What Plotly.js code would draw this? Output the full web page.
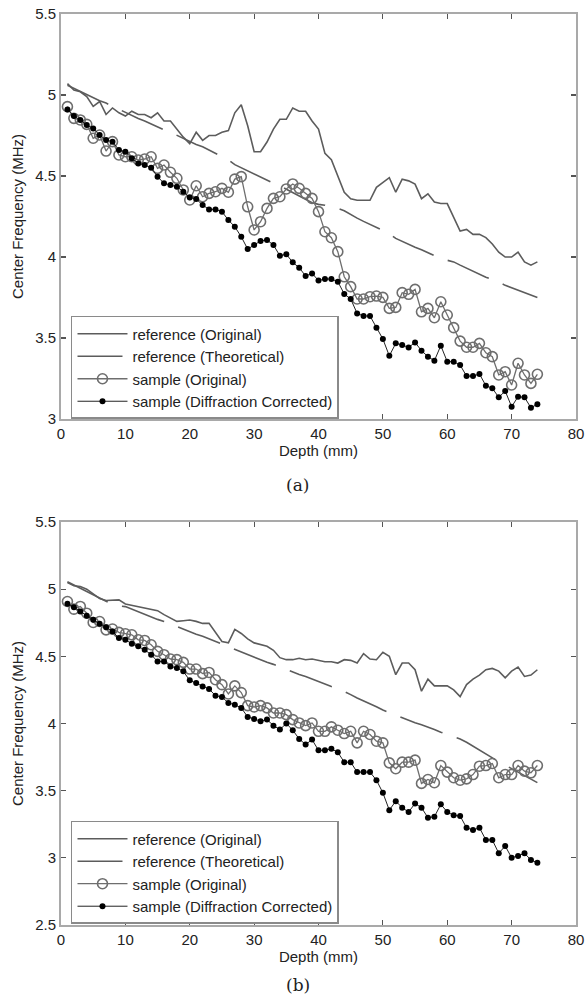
<!DOCTYPE html>
<html>
<head>
<meta charset="utf-8">
<script src="https://cdn.plot.ly/plotly-3.0.1.min.js"></script>
<style>html,body{margin:0;padding:0;background:#fff;}#chart{width:586px;height:1005px;}</style>
</head>
<body>
<div id="chart"></div>
<script>
// Depth (mm), 1..74
const depth = [1,2,3,4,5,6,7,8,9,10,11,12,13,14,15,16,17,18,19,20,21,22,23,24,25,26,27,28,29,30,31,32,33,34,35,36,37,38,39,40,41,42,43,44,45,46,47,48,49,50,51,52,53,54,55,56,57,58,59,60,61,62,63,64,65,66,67,68,69,70,71,72,73,74];

// ---- (a) ----
const refOrigA = [5.07,5.03,5.02,4.99,4.93,4.96,4.88,4.92,4.89,4.87,4.90,4.88,4.88,4.86,4.89,4.84,4.84,4.79,4.74,4.70,4.77,4.72,4.75,4.75,4.77,4.78,4.89,4.94,4.81,4.65,4.65,4.71,4.79,4.85,4.85,4.92,4.90,4.90,4.84,4.79,4.64,4.60,4.50,4.40,4.36,4.35,4.35,4.35,4.43,4.46,4.49,4.40,4.48,4.47,4.45,4.36,4.39,4.34,4.33,4.33,4.24,4.16,4.17,4.14,4.14,4.12,4.08,4.03,4.00,4.00,4.03,3.97,3.95,3.97];
const refTheoA = [5.06,5.04,5.02,5.005,4.985,4.965,4.95,4.93,4.91,4.895,4.875,4.855,4.84,4.82,4.80,4.785,4.77,4.75,4.735,4.715,4.695,4.68,4.66,4.64,4.625,4.60,4.57,4.55,4.53,4.515,4.495,4.475,4.455,4.44,4.42,4.40,4.38,4.36,4.335,4.325,4.32,4.31,4.30,4.285,4.26,4.24,4.22,4.20,4.185,4.165,4.145,4.115,4.095,4.075,4.06,4.045,4.025,4.005,3.99,3.98,3.97,3.95,3.93,3.91,3.895,3.875,3.86,3.845,3.825,3.81,3.795,3.78,3.765,3.75];
const sampOrigA = [4.928,4.856,4.846,4.819,4.733,4.753,4.654,4.712,4.63,4.619,4.619,4.599,4.605,4.619,4.547,4.568,4.523,4.486,4.414,4.352,4.44,4.372,4.393,4.403,4.424,4.40,4.481,4.496,4.31,4.167,4.218,4.30,4.362,4.372,4.42,4.451,4.424,4.393,4.362,4.28,4.156,4.119,4.033,3.878,3.817,3.741,3.741,3.755,3.759,3.751,3.683,3.689,3.78,3.77,3.80,3.662,3.683,3.625,3.724,3.642,3.564,3.481,3.443,3.443,3.467,3.409,3.385,3.272,3.292,3.21,3.344,3.272,3.22,3.276];
const sampCorrA = [4.91,4.87,4.846,4.815,4.794,4.753,4.722,4.712,4.66,4.65,4.609,4.578,4.568,4.551,4.496,4.455,4.444,4.434,4.403,4.368,4.358,4.321,4.294,4.294,4.28,4.228,4.187,4.125,4.049,4.074,4.099,4.105,4.074,4.008,4.017,3.967,3.934,3.883,3.899,3.855,3.864,3.864,3.848,3.772,3.741,3.652,3.636,3.636,3.564,3.494,3.39,3.467,3.457,3.442,3.473,3.422,3.385,3.36,3.453,3.354,3.354,3.333,3.265,3.265,3.278,3.206,3.19,3.134,3.173,3.076,3.138,3.134,3.07,3.091];

// ---- (b) ----
const refOrigB = [5.05,5.025,5.02,5.0,4.965,4.93,4.915,4.92,4.92,4.89,4.88,4.875,4.865,4.85,4.84,4.81,4.785,4.76,4.765,4.77,4.76,4.745,4.745,4.675,4.61,4.60,4.70,4.67,4.63,4.60,4.59,4.575,4.545,4.49,4.475,4.475,4.485,4.475,4.48,4.47,4.46,4.46,4.45,4.475,4.47,4.45,4.52,4.48,4.475,4.53,4.50,4.363,4.45,4.45,4.40,4.24,4.33,4.28,4.28,4.28,4.25,4.20,4.29,4.33,4.36,4.40,4.41,4.39,4.34,4.39,4.42,4.35,4.36,4.40];
const refTheoB = [5.055,5.03,5.005,4.98,4.955,4.93,4.91,4.89,4.875,4.87,4.85,4.83,4.815,4.795,4.775,4.76,4.74,4.72,4.705,4.685,4.665,4.65,4.63,4.61,4.59,4.57,4.55,4.535,4.515,4.495,4.475,4.455,4.44,4.42,4.40,4.385,4.365,4.35,4.33,4.315,4.295,4.275,4.26,4.24,4.215,4.19,4.17,4.15,4.125,4.10,4.08,4.06,4.04,4.02,4.005,3.99,3.975,3.955,3.935,3.92,3.90,3.885,3.86,3.83,3.80,3.77,3.74,3.715,3.69,3.665,3.64,3.61,3.585,3.56];
const sampOrigB = [4.908,4.851,4.871,4.821,4.752,4.759,4.697,4.703,4.678,4.668,4.66,4.623,4.618,4.586,4.537,4.512,4.48,4.475,4.455,4.405,4.405,4.371,4.38,4.326,4.289,4.22,4.28,4.23,4.133,4.123,4.133,4.116,4.078,4.078,4.066,4.029,4.004,3.984,4.004,3.942,3.942,3.975,3.95,3.925,3.942,3.856,3.942,3.918,3.868,3.856,3.707,3.663,3.712,3.712,3.727,3.554,3.583,3.559,3.687,3.638,3.596,3.578,3.588,3.62,3.682,3.687,3.702,3.596,3.62,3.62,3.687,3.645,3.633,3.687];
const sampCorrB = [4.891,4.866,4.834,4.802,4.772,4.742,4.717,4.685,4.636,4.623,4.594,4.574,4.549,4.512,4.462,4.462,4.425,4.413,4.388,4.321,4.301,4.276,4.257,4.207,4.197,4.153,4.14,4.116,4.049,4.034,4.017,4.029,3.984,3.955,4.0,3.95,3.885,3.843,3.88,3.80,3.801,3.811,3.786,3.712,3.712,3.638,3.638,3.638,3.578,3.484,3.355,3.422,3.373,3.341,3.405,3.373,3.299,3.306,3.398,3.341,3.316,3.311,3.224,3.207,3.224,3.133,3.133,3.034,3.088,3.001,3.014,3.034,2.984,2.964];

const names = ['reference (Original)','reference (Theoretical)','sample (Original)','sample (Diffraction Corrected)'];
const xTicks = [0,10,20,30,40,50,60,70,80];

const FONT = 'Liberation Sans, Arial, Helvetica, sans-serif';
const refColor = '#5c5c5c';
const circColor = '#6e6e6e';

function makeTraces(ro, rt, so, sc, xa, ya, lg) {
  return [
    {x: depth, y: ro, xaxis: xa, yaxis: ya, legend: lg, name: names[0], mode: 'lines',
     line: {color: refColor, width: 1.6}},
    {x: depth, y: rt, xaxis: xa, yaxis: ya, legend: lg, name: names[1], mode: 'lines',
     line: {color: refColor, width: 1.6, dash: '45px,15px'}},
    {x: depth, y: so, xaxis: xa, yaxis: ya, legend: lg, name: names[2], mode: 'lines+markers',
     line: {color: circColor, width: 1.3},
     marker: {symbol: 'circle-open', size: 10, color: circColor, line: {width: 1.6, color: circColor}}},
    {x: depth, y: sc, xaxis: xa, yaxis: ya, legend: lg, name: names[3], mode: 'lines+markers',
     line: {color: '#222', width: 1},
     marker: {symbol: 'circle', size: 6, color: '#000'}}
  ];
}

const data = [].concat(
  makeTraces(refOrigA, refTheoA, sampOrigA, sampCorrA, 'x', 'y', 'legend'),
  makeTraces(refOrigB, refTheoB, sampOrigB, sampCorrB, 'x2', 'y2', 'legend2')
);

const axisCommon = {
  showline: true, linecolor: '#a9a9a9', linewidth: 2, mirror: 'ticks',
  ticks: 'inside', ticklen: 5, tickwidth: 1.2, tickcolor: '#555',
  showgrid: false, zeroline: false,
  tickfont: {family: FONT, size: 15, color: '#222'}
};

const legendCommon = {
  xanchor: 'left', yanchor: 'top', x: 0.0194,
  bgcolor: '#ffffff', bordercolor: '#8a8a8a', borderwidth: 1.5,
  font: {family: FONT, size: 15, color: '#222'}, itemwidth: 50
};

const layout = {
  width: 586, height: 1005,
  margin: {l: 61, r: 10, t: 14, b: 80},
  paper_bgcolor: '#fff', plot_bgcolor: '#fff',
  showlegend: true,
  font: {family: FONT, size: 15, color: '#222'},
  xaxis: Object.assign({}, axisCommon, {domain: [0, 1], anchor: 'y', range: [0, 80], tickvals: xTicks,
    title: {text: 'Depth (mm)', font: {family: FONT, size: 15, color: '#222'}, standoff: 4}}),
  yaxis: Object.assign({}, axisCommon, {domain: [0.5554, 1], anchor: 'x', range: [3, 5.5], dtick: 0.5,
    title: {text: 'Center Frequency (MHz)', font: {family: FONT, size: 15, color: '#222'}, standoff: 8}}),
  xaxis2: Object.assign({}, axisCommon, {domain: [0, 1], anchor: 'y2', range: [0, 80], tickvals: xTicks,
    title: {text: 'Depth (mm)', font: {family: FONT, size: 15, color: '#222'}, standoff: 4}}),
  yaxis2: Object.assign({}, axisCommon, {domain: [0, 0.4424], anchor: 'x2', range: [2.5, 5.5], dtick: 0.5,
    title: {text: 'Center Frequency (MHz)', font: {family: FONT, size: 15, color: '#222'}, standoff: 8}}),
  legend: Object.assign({}, legendCommon, {y: 0.6685}),
  legend2: Object.assign({}, legendCommon, {y: 0.1142}),
  annotations: [
    {text: '(a)', xref: 'paper', yref: 'paper', x: 0.46, y: 0.483, xanchor: 'center', yanchor: 'middle',
     showarrow: false, font: {family: 'DejaVu Serif, Liberation Serif, serif', size: 17, color: '#222'}},
    {text: '(b)', xref: 'paper', yref: 'paper', x: 0.46, y: -0.0659, xanchor: 'center', yanchor: 'middle',
     showarrow: false, font: {family: 'DejaVu Serif, Liberation Serif, serif', size: 17, color: '#222'}}
  ]
};

Plotly.newPlot('chart', data, layout, {displayModeBar: false, staticPlot: true});
</script>
</body>
</html>
